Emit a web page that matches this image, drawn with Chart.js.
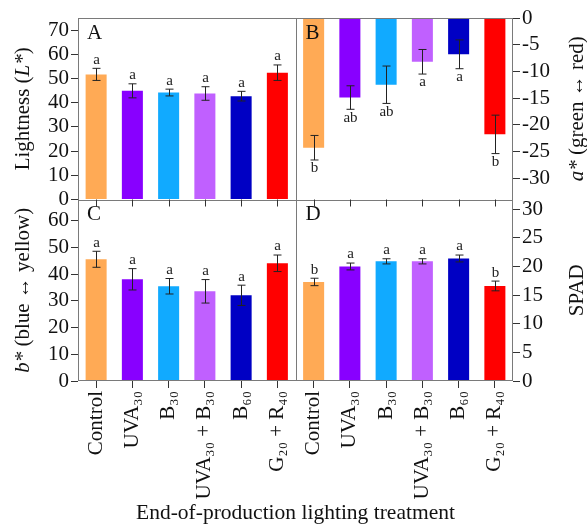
<!DOCTYPE html>
<html lang="en">
<head>
<meta charset="utf-8">
<title>End-of-production lighting</title>
<script src="https://cdn.jsdelivr.net/npm/chart.js"></script>
<style>
  html, body { margin: 0; padding: 0; background: #fff; }
  #wrap { width: 587px; height: 527px; }
</style>
</head>
<body>
<div id="wrap"><canvas id="grafico"></canvas></div>
<script>
const categories = ['Control', 'UVA₃₀', 'B₃₀', 'UVA₃₀ + B₃₀', 'B₆₀', 'G₂₀ + R₄₀'];
const barColors = ['#ffaa55', '#8800ff', '#11aaff', '#c060ff', '#0000c4', '#ff0000'];

// panel A - lightness
const lightness = [51.7, 44.9, 44.2, 43.8, 42.7, 52.4];
const lightnessErr = [2.5, 2.9, 1.4, 2.8, 2.0, 3.2];
const lightnessLetters = ['a', 'a', 'a', 'a', 'a', 'a'];

// panel B - a*
const aStar = [-24.3, -14.9, -12.5, -8.2, -6.8, -21.8];
const aStarErr = [2.3, 2.2, 3.5, 2.3, 2.7, 3.6];
const aStarLetters = ['b', 'ab', 'ab', 'a', 'a', 'b'];

// panel C - b*
const bStar = [45.6, 38.1, 35.5, 33.6, 32.1, 44.1];
const bStarErr = [3.0, 4.0, 2.9, 4.4, 3.8, 3.1];
const bStarLetters = ['a', 'a', 'a', 'a', 'a', 'a'];

// panel D - SPAD
const spad = [17.3, 20.0, 20.9, 20.9, 21.4, 16.6];
const spadErr = [0.65, 0.6, 0.45, 0.45, 0.6, 0.85];
const spadLetters = ['b', 'a', 'a', 'a', 'a', 'b'];

const SERIF = "'Liberation Serif', 'DejaVu Serif', serif";
const vazio = Array(6).fill(null);

const paineis = [
  { nome: 'A', eixo: 'yA', offset: 0, valores: lightness, erros: lightnessErr, letras: lightnessLetters,
    titulo: [['Lightness (', false], ['L*', true], [')', false]], lado: 'left' },
  { nome: 'B', eixo: 'yB', offset: 6, valores: aStar, erros: aStarErr, letras: aStarLetters,
    titulo: [['a*', true], [' (green ↔ red)', false]], lado: 'right' },
  { nome: 'C', eixo: 'yC', offset: 0, valores: bStar, erros: bStarErr, letras: bStarLetters,
    titulo: [['b*', true], [' (blue ↔ yellow)', false]], lado: 'left' },
  { nome: 'D', eixo: 'yD', offset: 6, valores: spad, erros: spadErr, letras: spadLetters,
    titulo: [['SPAD', false]], lado: 'right' }
];

function eixoY(lado, peso, min, max, passo, largura) {
  return {
    type: 'linear',
    position: lado,
    stack: lado,
    stackWeight: 1,
    weight: peso,
    min: min,
    max: max,
    border: { display: false },
    grid: { drawOnChartArea: false, tickLength: 7, color: '#333' },
    ticks: { stepSize: passo, includeBounds: false, autoSkip: false, maxTicksLimit: 30,
             padding: 2, color: '#111', font: { family: SERIF, size: 21, lineHeight: 1 } },
    afterFit: s => { s.width = largura; }
  };
}

function tituloRodado(ctx, cx, cy, partes) {
  const fonte = it => (it ? 'italic ' : '') + '21px ' + SERIF;
  let total = 0;
  partes.forEach(([t, it]) => { ctx.font = fonte(it); total += ctx.measureText(t).width; });
  ctx.save();
  ctx.translate(cx, cy);
  ctx.rotate(-Math.PI / 2);
  ctx.textBaseline = 'middle';
  ctx.textAlign = 'left';
  let x = -total / 2;
  partes.forEach(([t, it]) => {
    ctx.font = fonte(it);
    ctx.fillText(t, x, 0);
    x += ctx.measureText(t).width;
  });
  ctx.restore();
}

const extras = {
  id: 'extras',
  afterDatasetsDraw(chart) {
    const ctx = chart.ctx;
    const area = chart.chartArea;
    const xs = chart.scales.x;
    const yA = chart.scales.yA;
    ctx.save();

    // error bars + letters
    paineis.forEach((p, d) => {
      const meta = chart.getDatasetMeta(d);
      const esc = chart.scales[p.eixo];
      p.valores.forEach((v, i) => {
        const bar = meta.data[i + p.offset];
        const x = Math.round(bar.x) + 0.5;
        const yHi = esc.getPixelForValue(v + p.erros[i]);
        const yLo = esc.getPixelForValue(v - p.erros[i]);
        ctx.strokeStyle = '#222';
        ctx.lineWidth = 1;
        ctx.beginPath();
        ctx.moveTo(x, yHi); ctx.lineTo(x, yLo);
        ctx.moveTo(x - 4, yHi); ctx.lineTo(x + 4, yHi);
        ctx.moveTo(x - 4, yLo); ctx.lineTo(x + 4, yLo);
        ctx.stroke();
        ctx.fillStyle = '#222';
        ctx.font = '15px ' + SERIF;
        ctx.textAlign = 'center';
        if (v < 0) {
          ctx.textBaseline = 'top';
          ctx.fillText(p.letras[i], x, yLo + 1);
        } else {
          ctx.textBaseline = 'bottom';
          ctx.fillText(p.letras[i], x, yHi - 1);
        }
      });
    });

    // frame and dividers
    ctx.strokeStyle = '#7a7a7a';
    ctx.lineWidth = 1;
    ctx.strokeRect(area.left + 0.5, area.top + 0.5, area.width - 1, area.height - 1);
    ctx.beginPath();
    ctx.moveTo(area.left, Math.round(yA.bottom) + 0.5);
    ctx.lineTo(area.right, Math.round(yA.bottom) + 0.5);
    const meio = Math.round((xs.getPixelForValue(5) + xs.getPixelForValue(6)) / 2) + 0.5;
    ctx.moveTo(meio, area.top);
    ctx.lineTo(meio, area.bottom);
    ctx.stroke();

    // ticks under the top row
    ctx.strokeStyle = '#333';
    ctx.beginPath();
    for (let i = 0; i < 12; i++) {
      const x = Math.round(xs.getPixelForValue(i)) + 0.5;
      ctx.moveTo(x, yA.bottom);
      ctx.lineTo(x, yA.bottom + 7);
    }
    ctx.stroke();

    // panel letters
    ctx.fillStyle = '#111';
    ctx.font = '21px ' + SERIF;
    ctx.textAlign = 'left';
    ctx.textBaseline = 'middle';
    paineis.forEach(p => {
      const esc = chart.scales[p.eixo];
      const x0 = p.offset ? meio : area.left;
      ctx.fillText(p.nome, x0 + 9, esc.top + 15);
    });

    // axis titles
    paineis.forEach(p => {
      const esc = chart.scales[p.eixo];
      const cx = p.lado === 'left' ? esc.left + 23 : esc.right - 10;
      tituloRodado(ctx, cx, (esc.top + esc.bottom) / 2, p.titulo);
    });

    ctx.restore();
  }
};

new Chart(document.getElementById('grafico'), {
  type: 'bar',
  data: {
    labels: categories.concat(categories),
    datasets: [
      { data: lightness.concat(vazio), yAxisID: 'yA' },
      { data: vazio.concat(aStar), yAxisID: 'yB' },
      { data: bStar.concat(vazio), yAxisID: 'yC' },
      { data: vazio.concat(spad), yAxisID: 'yD' }
    ].map(ds => Object.assign(ds, {
      backgroundColor: barColors.concat(barColors),
      grouped: false,
      categoryPercentage: 1,
      barPercentage: 0.58
    }))
  },
  options: {
    responsive: true,
    maintainAspectRatio: false,
    animation: false,
    layout: { padding: { top: 18, left: 0, right: 0, bottom: 0 } },
    plugins: { legend: { display: false }, tooltip: { enabled: false } },
    scales: {
      x: {
        type: 'category',
        position: 'bottom',
        border: { display: false },
        grid: { drawOnChartArea: false, offset: false, tickLength: 7, color: '#333' },
        ticks: { autoSkip: false, minRotation: 90, maxRotation: 90, padding: 3, color: '#111',
                 font: { family: SERIF, size: 21 } },
        title: { display: true, text: 'End-of-production lighting treatment', color: '#111',
                 font: { family: SERIF, size: 21.5 }, padding: { top: 0, bottom: 1 } },
        afterFit: s => { s.height = 146; }
      },
      yA: eixoY('left', 2, 0, 75, 10, 78),
      yC: eixoY('left', 1, 0, 68, 10, 78),
      yB: eixoY('right', 1, -34, 0, 5, 74),
      yD: eixoY('right', 2, 0, 31.7, 5, 74)
    }
  },
  plugins: [extras]
});
</script>
</body>
</html>
